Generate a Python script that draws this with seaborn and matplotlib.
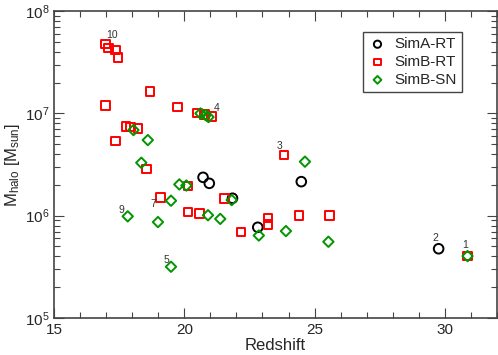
import numpy as np
import pandas as pd
import matplotlib
matplotlib.use("Agg")
import matplotlib.pyplot as plt
import seaborn as sns
from matplotlib.ticker import MultipleLocator, LogLocator, NullFormatter

# halo masses vs redshift
simA_z = [20.72, 20.96, 21.85, 22.82, 24.49, 29.76]
simA_m = [2.37e6, 2.07e6, 1.48e6, 7.7e5, 2.15e6, 4.75e5]

simB_rt_z = [16.97, 17.09, 17.36, 17.46, 18.69, 16.97, 19.73, 20.51, 20.77, 21.04,
             17.77, 17.93, 18.22, 17.36, 18.54, 23.82, 19.08, 20.15, 21.54, 20.14,
             20.59, 22.17, 23.22, 23.22, 24.40, 25.58, 30.87]
simB_rt_m = [4.76e7, 4.35e7, 4.16e7, 3.5e7, 1.64e7, 1.2e7, 1.15e7, 1.01e7, 9.8e6, 9.3e6,
             7.4e6, 7.35e6, 7.07e6, 5.36e6, 2.85e6, 3.91e6, 1.5e6, 1.95e6, 1.47e6, 1.09e6,
             1.05e6, 6.9e5, 9.5e5, 8.2e5, 1.01e6, 1.01e6, 4.03e5]

simB_sn_z = [20.62, 20.82, 20.93, 18.05, 18.60, 18.35, 24.63, 19.81, 20.08, 19.49,
             21.82, 17.83, 18.99, 20.91, 21.38, 22.86, 19.49, 23.90, 25.53, 30.87]
simB_sn_m = [9.98e6, 9.6e6, 9.2e6, 6.87e6, 5.48e6, 3.29e6, 3.37e6, 2.02e6, 1.97e6, 1.4e6,
             1.42e6, 9.85e5, 8.66e5, 1.01e6, 9.3e5, 6.4e5, 3.17e5, 7.07e5, 5.56e5, 4.03e5]

# halo id labels
label_txt = ["10", "4", "3", "9", "7", "5", "2", "1"]
label_z = [17.22, 21.26, 23.67, 17.60, 18.80, 19.31, 29.62, 30.76]
label_m = [5.8e7, 1.12e7, 4.8e6, 1.13e6, 1.29e6, 3.68e5, 6.0e5, 5.16e5]

sns.set_style("ticks")
plt.rcParams["font.family"] = ["Liberation Sans", "DejaVu Sans"]
plt.rcParams["mathtext.default"] = "regular"

fig = plt.figure(figsize=(4.98, 3.55), dpi=100)
ax = fig.add_axes([0.1084, 0.1042, 0.8896, 0.8648])

series = [
    ("SimA-RT", simA_z, simA_m, "o", "black"),
    ("SimB-RT", simB_rt_z, simB_rt_m, "s", "#ff0000"),
    ("SimB-SN", simB_sn_z, simB_sn_m, "D", "#009600"),
]
sizes = {"o": 48, "s": 38, "D": 28}
for name, z, m, mk, col in series:
    df = pd.DataFrame({"z": z, "m": m})
    sns.scatterplot(data=df, x="z", y="m", marker=mk, s=sizes[mk], color=col,
                    linewidth=1.4, ax=ax, label=name, zorder=3)
    coll = ax.collections[-1]
    coll.set_facecolor("none")
    coll.set_edgecolor(col)

for t, z, m in zip(label_txt, label_z, label_m):
    ax.text(z, m, t, fontsize=7.5, color="#333333", ha="center", va="center")

ax.set_yscale("log")
ax.set_xlim(15, 32)
ax.set_ylim(1e5, 1e8)
ax.xaxis.set_major_locator(MultipleLocator(5))
ax.xaxis.set_minor_locator(MultipleLocator(1))
ax.yaxis.set_major_locator(LogLocator(base=10))
ax.yaxis.set_minor_locator(LogLocator(base=10, subs=np.arange(2, 10)))
ax.yaxis.set_minor_formatter(NullFormatter())
ax.tick_params(which="both", direction="in", top=True, right=True, labelsize=11,
               color="#444444", width=0.8)
ax.tick_params(which="major", length=7)
ax.tick_params(which="minor", length=4)
for sp in ax.spines.values():
    sp.set_color("#444444")
    sp.set_linewidth(1.2)

ax.set_xlabel("Redshift", fontsize=12, labelpad=1)
ax.set_ylabel(r"M$_{halo}$ [M$_{sun}$]", fontsize=12, labelpad=2)

leg = ax.legend(loc="upper right", bbox_to_anchor=(0.921, 0.932), fontsize=11,
                fancybox=False, framealpha=1, edgecolor="#444444",
                handlelength=1.2, handletextpad=0.5, borderpad=0.35,
                labelspacing=0.25, borderaxespad=0, markerscale=0.75)
leg.get_frame().set_linewidth(1.0)

fig.savefig("out.png", dpi=100)
